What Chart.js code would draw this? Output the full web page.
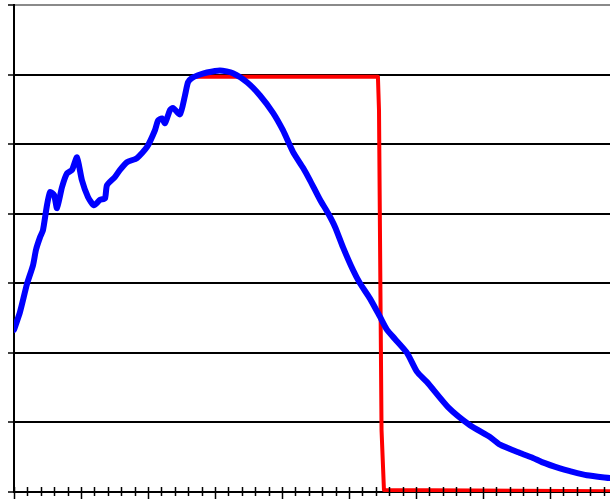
<!DOCTYPE html>
<html>
<head>
<meta charset="utf-8">
<script src="https://cdn.jsdelivr.net/npm/chart.js@4/dist/chart.umd.min.js"></script>
<style>
html,body{margin:0;padding:0;background:#fff;}
#wrap{width:610px;height:499px;position:relative;}
</style>
</head>
<body>
<div id="wrap"><canvas id="c"></canvas></div>
<script>
// X positions (in tick units) and values of the blue curve
const blueX = [0,0.45,0.97,1.42,1.64,1.94,2.16,2.46,2.69,2.99,3.21,3.58,3.96,4.33,4.70,5.07,5.52,5.97,6.42,6.79,6.94,7.54,7.91,8.43,9.18,9.93,10.52,10.75,11.04,11.27,11.64,11.87,12.39,12.76,12.99,13.28,13.73,14.40,15.37,16.34,17.39,18.36,19.33,20.07,20.82,21.57,22.09,22.84,23.43,23.96,24.55,25.30,25.82,26.57,27.31,27.84,28.43,29.33,30.07,30.82,32.39,34.03,35.52,36.27,37.76,38.73,39.40,40.75,41.49,42.76,44.48];
const blueY = [2.33,2.59,2.99,3.26,3.48,3.66,3.76,4.12,4.31,4.27,4.08,4.38,4.58,4.63,4.81,4.48,4.24,4.12,4.20,4.22,4.41,4.53,4.63,4.74,4.80,4.96,5.20,5.34,5.37,5.30,5.49,5.52,5.43,5.70,5.89,5.95,5.99,6.03,6.06,6.02,5.89,5.70,5.45,5.20,4.89,4.66,4.48,4.20,4.01,3.81,3.52,3.19,3.00,2.78,2.52,2.33,2.20,2.00,1.73,1.58,1.22,0.96,0.79,0.68,0.56,0.49,0.43,0.34,0.30,0.24,0.20];
// Red step line
const redX = [13.58,27.16,27.24,27.43,27.61,44.48];
const redY = [5.97,5.97,5.49,0.89,0.03,0.01];
// Axis ranges / ticks
const xMin = 0, xMax = 44.48, xTickCount = 44, xMajorEvery = 5;
const yMin = 0, yMax = 7, yStep = 1;

const toPts = (xs, ys) => xs.map((x, i) => ({x: x, y: ys[i]}));

const xTickPlugin = {
  id: 'xTicks',
  afterDatasetsDraw(chart) {
    const ctx = chart.ctx, xs = chart.scales.x, bottom = chart.chartArea.bottom;
    ctx.save();
    ctx.strokeStyle = '#000';
    ctx.lineWidth = 1.5;
    for (let i = 0; i <= xTickCount; i++) {
      const px = Math.round(xs.getPixelForValue(i)) + 0.5;
      const major = i % xMajorEvery === 0;
      ctx.beginPath();
      ctx.moveTo(px, bottom - 5);
      ctx.lineTo(px, bottom + (major ? 7 : 4));
      ctx.stroke();
    }
    ctx.restore();
  }
};

new Chart(document.getElementById('c'), {
  type: 'line',
  data: {
    datasets: [
      {data: toPts(blueX, blueY), borderColor: '#0000ff', borderWidth: 6, pointRadius: 0, tension: 0.2,
       borderCapStyle: 'round', borderJoinStyle: 'round', fill: false},
      {data: toPts(redX, redY), borderColor: '#ff0000', borderWidth: 4, pointRadius: 0, tension: 0,
       borderCapStyle: 'round', borderJoinStyle: 'round', fill: false}
    ]
  },
  options: {
    responsive: true,
    maintainAspectRatio: false,
    animation: false,
    layout: {padding: {left: 8, top: 5, right: 0, bottom: 7}},
    plugins: {legend: {display: false}, tooltip: {enabled: false}},
    scales: {
      x: {
        type: 'linear', min: xMin, max: xMax,
        ticks: {display: false},
        grid: {display: false, drawTicks: false},
        border: {display: true, color: '#000', width: 2}
      },
      y: {
        min: yMin, max: yMax,
        ticks: {display: false, stepSize: yStep},
        grid: {
          color: (c) => c.tick && c.tick.value === yMax ? '#8a8a8a' : '#000',
          lineWidth: 2, drawTicks: true, tickLength: 6, tickColor: '#000', tickWidth: 1.5
        },
        border: {display: true, color: '#000', width: 2}
      }
    }
  },
  plugins: [xTickPlugin]
});
</script>
</body>
</html>
